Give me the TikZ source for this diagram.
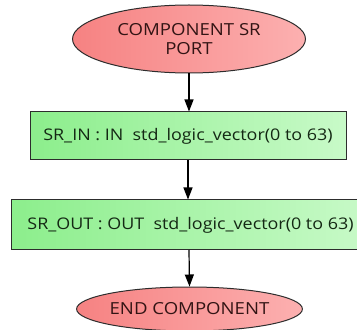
\documentclass[tikz,border=0pt]{standalone}
\usepackage{fontspec}
\setmainfont{Open Sans}[FakeStretch=1.12]
\usetikzlibrary{shapes.geometric,arrows.meta}
\definecolor{redL}{RGB}{246,130,130}
\definecolor{redR}{RGB}{252,176,176}
\definecolor{grnL}{RGB}{140,238,140}
\definecolor{grnR}{RGB}{200,250,200}
\definecolor{edge}{RGB}{45,45,45}
\definecolor{txtR}{RGB}{50,20,20}
\definecolor{txtG}{RGB}{20,40,20}
\tikzset{
  termnode/.style={ellipse, draw=edge, line width=1pt, left color=redL, right color=redR,
    inner sep=0pt, text=txtR, font=\fontsize{16.6}{18.5}\selectfont, align=center},
  procnode/.style={rectangle, draw=edge, line width=1pt, left color=grnL, right color=grnR,
    inner sep=0pt, text=txtG, font=\fontsize{16}{18}\selectfont},
  flowarrow/.style={draw=black, line width=1.2pt, -{Triangle[width=9pt,length=12pt]}}
}
\begin{document}
\begin{tikzpicture}[x=1pt,y=1pt]
\useasboundingbox (0,0) rectangle (357,330);
\node[termnode, minimum width=233pt, minimum height=68pt] (start) at (189,291) {COMPONENT SR\\PORT};
\node[procnode, minimum width=316pt, minimum height=48pt] (in) at (188,194) {SR\_IN : IN\ \ std\_logic\_vector(0 to 63)};
\node[procnode, minimum width=359pt, minimum height=50pt] (out) at (190.5,105) {SR\_OUT : OUT\ \ std\_logic\_vector(0 to 63)};
\node[termnode, minimum width=225pt, minimum height=44pt] (end) at (189.5,21) {END COMPONENT};
\draw[flowarrow] (start.south) -- (start.south |- in.north);
\draw[flowarrow] (in.south) -- (in.south |- out.north);
\draw[flowarrow] (189,80) -- (end.north);
\end{tikzpicture}
\end{document}
